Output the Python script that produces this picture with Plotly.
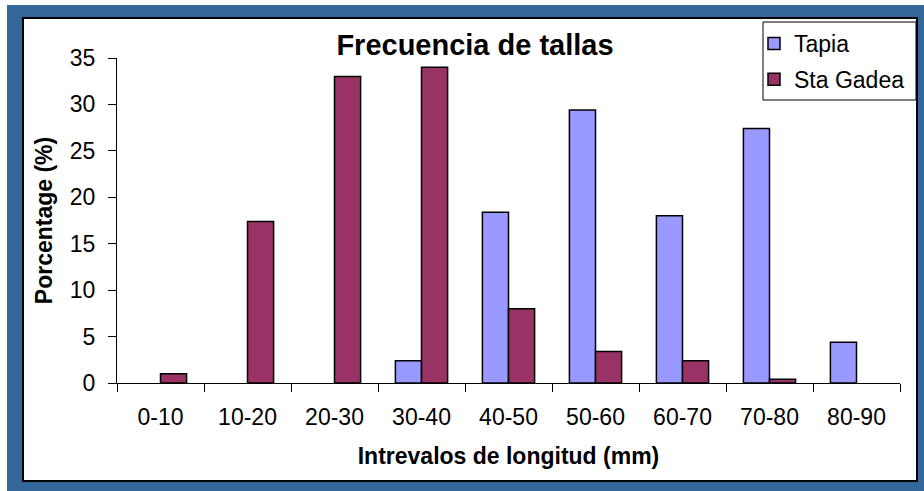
import plotly.graph_objects as go

# Size-class frequencies (percent) for the two sampling sites
intervalos = ["0-10", "10-20", "20-30", "30-40", "40-50", "50-60", "60-70", "70-80", "80-90"]
tapia = [0, 0, 0, 2.4, 18.4, 29.4, 18.0, 27.4, 4.4]
sta_gadea = [1.0, 17.4, 33.0, 34.0, 8.0, 3.4, 2.4, 0.4, 0]

W, H = 924, 491
# plot-area box in pixels
L, R, T, B = 117, 900, 58, 383

FONT = "Liberation Sans, Arial, sans-serif"


def px_x(p):
    return (p - L) / (R - L)


def px_y(p):
    return (B - p) / (B - T)


def non_empty(values):
    # empty classes get no bar at all (no outline stub on the axis)
    return [v if v > 0 else None for v in values]


fig = go.Figure()
fig.add_trace(go.Bar(
    name="Tapia", x=intervalos, y=non_empty(tapia), legendgroup="a",
    marker=dict(color="#9999FF", line=dict(color="black", width=1.5)),
))
fig.add_trace(go.Bar(
    name="Sta Gadea", x=intervalos, y=non_empty(sta_gadea), legendgroup="b",
    marker=dict(color="#993366", line=dict(color="black", width=1.5)),
))

shapes = [
    # blue outer frame
    dict(type="rect", xref="paper", yref="paper", layer="below",
         x0=px_x(7), x1=px_x(W + 5), y0=px_y(H + 5), y1=px_y(5),
         fillcolor="#336699", line=dict(width=0)),
    # white chart area with dark border
    dict(type="rect", xref="paper", yref="paper", layer="below",
         x0=px_x(23), x1=px_x(917), y0=px_y(481), y1=px_y(18),
         fillcolor="white", line=dict(color="black", width=2)),
    # legend box
    dict(type="rect", xref="paper", yref="paper", layer="above",
         x0=px_x(763), x1=px_x(916), y0=px_y(100), y1=px_y(22),
         fillcolor="rgba(0,0,0,0)", line=dict(color="black", width=1)),
]

fig.update_layout(
    width=W, height=H,
    margin=dict(l=L, r=W - R, t=T, b=H - B, pad=0),
    paper_bgcolor="white",
    plot_bgcolor="rgba(0,0,0,0)",
    font=dict(family=FONT, color="black", size=23),
    barmode="group", bargap=0.40, bargroupgap=0,
    showlegend=True,
    title=dict(text="<b>Frecuencia de tallas</b>", font=dict(size=29, family=FONT),
               xref="paper", x=px_x(475), xanchor="center",
               yref="container", y=1 - 45 / H, yanchor="middle"),
    legend=dict(x=px_x(754), xanchor="left", y=px_y(22), yanchor="top",
                bgcolor="rgba(0,0,0,0)", borderwidth=0,
                font=dict(size=23, family=FONT),
                traceorder="grouped", tracegroupgap=3, itemwidth=30),
    shapes=shapes,
)

fig.update_xaxes(
    showline=True, linecolor="black", linewidth=1,
    ticks="outside", ticklen=8, tickcolor="black", tickson="boundaries",
    showgrid=False, zeroline=False,
    tickfont=dict(size=23), ticklabelstandoff=13,
    title=dict(text="<b>Intrevalos de longitud (mm)</b>", font=dict(size=23), standoff=19),
)
fig.update_yaxes(
    range=[0, 35], dtick=5, tick0=0,
    showline=True, linecolor="black", linewidth=1,
    ticks="outside", ticklen=8, tickcolor="black",
    showgrid=False, zeroline=False,
    tickfont=dict(size=23), ticklabelstandoff=8,
    title=dict(text="<b>Porcentage (%)</b>", font=dict(size=23), standoff=10),
)

fig.write_html("out.html")
